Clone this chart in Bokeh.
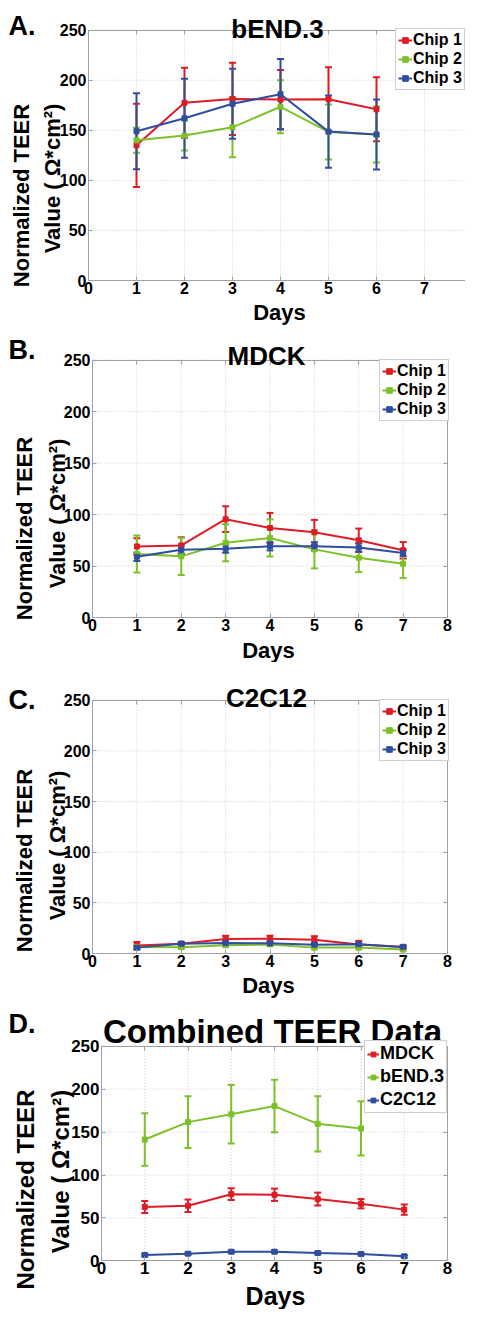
from math import pi
from bokeh.plotting import figure
from bokeh.models import (ColumnDataSource, Whisker, TeeHead, Label, Legend,
                          LegendItem, FixedTicker, Range1d, LinearAxis)
from bokeh.layouts import column
from bokeh.embed import file_html
from bokeh.resources import INLINE

# ---------------- data ----------------
days6 = [1, 2, 3, 4, 5, 6]
days7 = [1, 2, 3, 4, 5, 6, 7]
x_ticks = [0, 1, 2, 3, 4, 5, 6, 7, 8]
y_ticks = [0, 50, 100, 150, 200, 250]
X_MAX, Y_MAX = 8, 250

# A. bEND.3
a_chip1_mean = [135, 177.5, 181.4, 180.7, 181, 171]
a_chip1_err = [41.5, 35, 36, 29.5, 32, 32]
a_chip2_mean = [140, 144.8, 153, 173.5, 148.4, 145.8]
a_chip2_err = [12.5, 15, 30, 26.5, 27.5, 28]
a_chip3_mean = [149, 162, 176.5, 186, 148.7, 145.8]
a_chip3_err = [38, 39.5, 35, 35.3, 36, 35]

# B. MDCK
b_chip1_mean = [69, 70, 95.5, 87, 82.8, 75, 65.3]
b_chip1_err = [8, 8, 12.5, 14.6, 12, 11.4, 8]
b_chip2_mean = [61.7, 59.4, 72.7, 77.3, 66.2, 58.1, 52.3]
b_chip2_err = [18, 18, 18, 18, 18.5, 14, 14]
b_chip3_mean = [59, 65.9, 66.9, 69.2, 69.2, 67.9, 62.7]
b_chip3_err = [4, 4, 4, 4, 4, 4, 3]

# C. C2C12
c_chip1_mean = [7.8, 9.7, 14.2, 14.6, 13.6, 9, 6.5]
c_chip1_err = [3.5, 1.5, 3.3, 3, 3.5, 3.5, 1.5]
c_chip2_mean = [6.5, 6.2, 8.1, 9, 5.8, 5.8, 3.9]
c_chip2_err = [1.5, 1.5, 1.5, 1.5, 1.5, 1.5, 1]
c_chip3_mean = [5.8, 9.7, 10.4, 10, 8.7, 9.1, 6.5]
c_chip3_err = [1.5, 1.5, 1.5, 1.5, 1.5, 1.5, 1]

# D. Combined
d_mdck_mean = [62.8, 64.3, 77.7, 77, 72, 66.6, 59.7]
d_mdck_err = [7, 7.3, 6.9, 7.2, 7.5, 5.4, 6]
d_bend_mean = [141.3, 161.6, 170.7, 180.3, 159.6, 154.3]
d_bend_err = [30.6, 30, 34, 30.6, 32.2, 31.6]
d_c2c12_mean = [6.9, 8.4, 10.7, 10.7, 9.2, 8, 5.4]
d_c2c12_err = [1.5, 1.5, 1.5, 1.5, 1.5, 1.5, 1.5]

chip_labels = ["Chip 1", "Chip 2", "Chip 3"]
combined_labels = ["MDCK", "bEND.3", "C2C12"]
panel_titles = ["bEND.3", "MDCK", "C2C12", "Combined TEER Data"]
panel_letters = ["A.", "B.", "C.", "D."]
ylabel_lines = ["Normalized TEER", "Value ( \u03a9*cm\u00b2)"]
xlabel = "Days"

# ---------------- style ----------------
FONT = "Liberation Sans"
RED = "#DD1C25"
GREEN = "#7DC12A"
BLUE = "#2F4E9E"
GRAY = "#A0A0A0"
GRIDC = "#CCCCCC"
PAGE = 8
W = 465
CANVAS_R = PAGE + W


def style_axis(ax, fs, standoff, show_labels):
    ax.axis_line_color = GRAY
    ax.major_tick_line_color = GRAY
    ax.major_tick_in = 4
    ax.major_tick_out = 0
    ax.minor_tick_line_color = None
    ax.major_label_text_font = FONT
    ax.major_label_text_font_style = "bold"
    ax.major_label_text_font_size = fs
    ax.major_label_text_color = "black"
    ax.major_label_standoff = standoff
    if not show_labels:
        ax.major_label_text_alpha = 0
        ax.major_label_text_font_size = "1px"


def make_panel(g, series, labels, title, letter):
    L, R, Ft, Fb = g["L"], g["R"], g["Ft"], g["Fb"]
    Ct, Cb = g["Ct"], g["Cb"]
    kx = (R - L) / X_MAX
    ky = (Fb - Ft) / Y_MAX
    x0 = -(L - PAGE) / kx
    x1 = X_MAX + (CANVAS_R - R) / kx
    y0 = -(Cb - Fb) / ky
    y1 = Y_MAX + (Ft - Ct) / ky

    p = figure(width=W, height=int(round(Cb - Ct)), x_range=Range1d(x0, x1),
               y_range=Range1d(y0, y1), x_axis_location=None, y_axis_location=None,
               output_backend="svg", toolbar_location=None,
               min_border_left=0, min_border_right=0, min_border_top=0, min_border_bottom=0)
    p.outline_line_color = None
    p.background_fill_color = "white"
    p.border_fill_color = "white"
    p.grid.visible = False

    def to_data(px, py):
        return (x0 + (px - PAGE) / kx, y0 + (Cb - py) / ky)

    # dotted grid at the tick positions, inside the axes box
    vis_x = [t for t in x_ticks if t <= x1]
    p.segment(x0=vis_x, y0=[0] * len(vis_x), x1=vis_x, y1=[Y_MAX] * len(vis_x),
              line_color=GRIDC, line_dash="1 2", line_width=1, level="underlay")
    p.segment(x0=[0] * len(y_ticks), y0=y_ticks, x1=[X_MAX] * len(y_ticks), y1=y_ticks,
              line_color=GRIDC, line_dash="1 2", line_width=1, level="underlay")

    # box axes (MATLAB style: ticks inside on all sides)
    ax_l = LinearAxis(fixed_location=0, bounds=(0, Y_MAX), ticker=FixedTicker(ticks=y_ticks))
    style_axis(ax_l, g["tick_fs"], 2, True)
    p.add_layout(ax_l, "left")
    ax_b = LinearAxis(fixed_location=0, bounds=(0, X_MAX), ticker=FixedTicker(ticks=vis_x))
    style_axis(ax_b, g["tick_fs"], 1, True)
    p.add_layout(ax_b, "below")
    ax_t = LinearAxis(fixed_location=Y_MAX, bounds=(0, X_MAX), ticker=FixedTicker(ticks=vis_x))
    style_axis(ax_t, g["tick_fs"], 2, False)
    p.add_layout(ax_t, "above")
    if X_MAX <= x1:
        ax_r = LinearAxis(fixed_location=X_MAX, bounds=(0, Y_MAX), ticker=FixedTicker(ticks=y_ticks))
        style_axis(ax_r, g["tick_fs"], 2, False)
        p.add_layout(ax_r, "right")

    items = []
    for (xs, mean, err, col), lab in zip(series, labels):
        src = ColumnDataSource(dict(x=xs, y=mean,
                                    upper=[m + e for m, e in zip(mean, err)],
                                    lower=[m - e for m, e in zip(mean, err)]))
        p.add_layout(Whisker(base="x", upper="upper", lower="lower", source=src,
                             line_color=col, line_width=2,
                             upper_head=TeeHead(size=7, line_color=col, line_width=2),
                             lower_head=TeeHead(size=7, line_color=col, line_width=2)))
        ln = p.line("x", "y", source=src, line_color=col, line_width=2)
        sc = p.scatter("x", "y", source=src, marker="square", size=5,
                       fill_color=col, line_color=col)
        items.append(LegendItem(label=lab, renderers=[ln, sc]))
    leg_x, leg_y = g["leg_bl"]
    p.add_layout(Legend(items=items, location=(leg_x - PAGE, Cb - leg_y), margin=0,
                        padding=2, spacing=g["leg_sp"],
                        label_text_font=FONT, label_text_font_style="bold",
                        label_text_font_size=g["leg_fs"], label_text_color="black",
                        label_height=g["leg_row"], glyph_height=g["leg_row"],
                        glyph_width=g["leg_glyph"], label_standoff=1,
                        border_line_color=GRAY, background_fill_color="white",
                        background_fill_alpha=1))

    def put(txt, px, py, fs, align="center", angle=0.0):
        x, y = to_data(px, py)
        p.add_layout(Label(x=x, y=y, text=txt, text_font=FONT, text_font_style="bold",
                           text_font_size=fs, text_color="black", text_align=align,
                           text_baseline="alphabetic", angle=angle))

    put(letter, 16, g["letter_y"], "27px", align="left")
    put(title, g["title_x"], g["title_y"], g["title_fs"])
    put(xlabel, g["days_x"], g["days_y"], g["days_fs"])
    put(ylabel_lines[0], g["yl1_x"], g["yl1_y"], g["yl_fs"], angle=pi / 2)
    put(ylabel_lines[1], g["yl2_x"], g["yl2_y"], g["yl_fs"], angle=pi / 2)
    return p


# page-pixel geometry of each panel: canvas top/bottom, axes box, text anchors
geoA = dict(Ct=8, Cb=333, L=96, R=480, Ft=37.7, Fb=288, tick_fs="16px",
            leg_bl=(403, 98), leg_sp=1, leg_fs="16px", leg_row=18, leg_glyph=14,
            letter_y=33, title_x=285, title_y=36, title_fs="26px",
            days_x=287, days_y=320.3, days_fs="22px",
            yl1_x=29, yl1_y=203, yl2_x=60, yl2_y=186, yl_fs="22px")
geoB = dict(Ct=333, Cb=670, L=100, R=455, Ft=367.7, Fb=625, tick_fs="16px",
            leg_bl=(387, 429), leg_sp=1, leg_fs="16px", leg_row=18, leg_glyph=14,
            letter_y=357.5, title_x=274, title_y=363.3, title_fs="26px",
            days_x=276, days_y=658, days_fs="22px",
            yl1_x=32, yl1_y=536, yl2_x=65, yl2_y=521, yl_fs="22px")
geoC = dict(Ct=670, Cb=1006, L=100, R=455, Ft=707.7, Fb=961, tick_fs="16px",
            leg_bl=(387, 769), leg_sp=1, leg_fs="16px", leg_row=18, leg_glyph=14,
            letter_y=707, title_x=274, title_y=705, title_fs="26px",
            days_x=276, days_y=993.3, days_fs="22px",
            yl1_x=32, yl1_y=868, yl2_x=65, yl2_y=853, yl_fs="22px")
geoD = dict(Ct=1006, Cb=1317, L=109, R=455, Ft=1053.7, Fb=1268.4, tick_fs="17px",
            leg_bl=(372, 1121), leg_sp=2, leg_fs="18px", leg_row=20, leg_glyph=12,
            letter_y=1031, title_x=280, title_y=1038.5, title_fs="33px",
            days_x=283, days_y=1303.7, days_fs="25px",
            yl1_x=33, yl1_y=1197, yl2_x=68, yl2_y=1179, yl_fs="24px")

pA = make_panel(geoA, [(days6, a_chip1_mean, a_chip1_err, RED),
                       (days6, a_chip2_mean, a_chip2_err, GREEN),
                       (days6, a_chip3_mean, a_chip3_err, BLUE)],
                chip_labels, panel_titles[0], panel_letters[0])
pB = make_panel(geoB, [(days7, b_chip1_mean, b_chip1_err, RED),
                       (days7, b_chip2_mean, b_chip2_err, GREEN),
                       (days7, b_chip3_mean, b_chip3_err, BLUE)],
                chip_labels, panel_titles[1], panel_letters[1])
pC = make_panel(geoC, [(days7, c_chip1_mean, c_chip1_err, RED),
                       (days7, c_chip2_mean, c_chip2_err, GREEN),
                       (days7, c_chip3_mean, c_chip3_err, BLUE)],
                chip_labels, panel_titles[2], panel_letters[2])
pD = make_panel(geoD, [(days7, d_mdck_mean, d_mdck_err, RED),
                       (days6, d_bend_mean, d_bend_err, GREEN),
                       (days7, d_c2c12_mean, d_c2c12_err, BLUE)],
                combined_labels, panel_titles[3], panel_letters[3])

layout = column(pA, pB, pC, pD, spacing=0)
open("out.html", "w").write(file_html(layout, INLINE))
